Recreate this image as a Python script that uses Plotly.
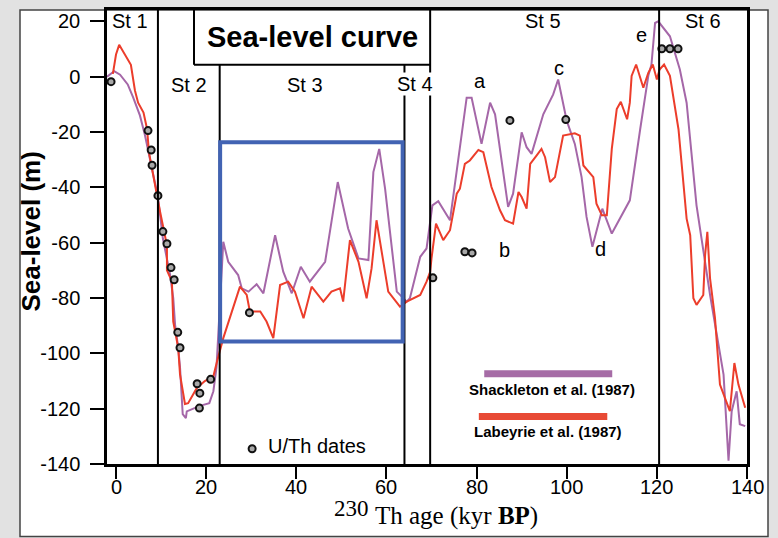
import plotly.graph_objects as go

# ---------------- data ----------------
shackleton_age = [-2.0, -0.4, 0.9, 2.6, 3.8, 5.3, 6.4, 7.5, 8.5, 9.3, 10.4, 12.0, 12.7, 13.1, 13.8, 14.2,
                  14.8, 15.5, 15.7, 18.6, 20.7, 21.6, 22.3, 23.0, 23.8, 24.9, 27.1, 27.9, 29.4, 31.2, 32.7,
                  35.3, 37.1, 39.0, 41.0, 43.0, 46.4, 49.2, 51.5, 53.8, 56.0, 57.1, 58.4, 59.7, 62.3, 64.5,
                  65.2, 67.5, 68.9, 70.2, 71.5, 74.1, 77.8, 78.9, 81.1, 83.0, 84.1, 87.0, 88.1, 90.0, 91.1,
                  92.2, 94.8, 97.0, 98.1, 100.0, 101.8, 103.3, 104.4, 105.7, 107.9, 110.0, 114.0, 116.3,
                  118.1, 118.8, 119.6, 120.3, 122.9, 125.1, 126.6, 128.8, 131.8, 134.8, 135.9, 136.6,
                  137.7, 138.4, 139.6]
shackleton_sl = [0.0, 2.0, 0.7, -2.8, -7.5, -14.0, -21.0, -30.0, -38.0, -43.5, -58.5, -71.6, -80.0, -89.6,
                 -98.0, -105.0, -122.0, -123.4, -121.0, -119.0, -118.0, -113.7, -105.0, -85.0, -59.7, -66.9,
                 -71.7, -76.5, -77.7, -75.0, -78.3, -57.3, -70.5, -78.3, -68.7, -74.1, -66.9, -38.1, -54.9,
                 -65.7, -66.3, -34.5, -26.1, -40.5, -77.7, -81.3, -80.1, -65.1, -62.1, -46.5, -45.0, -51.9,
                 -7.6, -7.6, -24.3, -9.4, -13.6, -47.1, -42.3, -20.1, -25.5, -27.9, -13.6, -6.4, -1.0,
                 -15.9, -24.3, -36.3, -50.7, -61.5, -47.7, -56.7, -44.7, -19.0, 0.3, 4.4, 19.4, 20.0, 14.6,
                 2.6, -9.4, -46.5, -78.9, -107.7, -138.8, -120.9, -113.7, -125.6, -126.3]

labeyrie_age = [-0.7, 0.0, 0.7, 2.4, 3.3, 4.2, 4.9, 6.1, 6.9, 7.3, 8.2, 9.1, 9.8, 11.3, 11.3, 12.4, 12.7,
                13.8, 14.2, 15.3, 16.0, 17.9, 19.7, 21.6, 22.4, 23.8, 27.5, 29.0, 29.7, 32.0, 33.4, 34.9,
                36.4, 38.2, 39.7, 41.6, 43.4, 46.0, 47.8, 49.7, 50.4, 51.9, 53.8, 55.6, 56.7, 57.8, 60.4,
                63.0, 64.5, 67.5, 68.9, 69.7, 70.0, 71.0, 72.6, 74.1, 75.6, 76.3, 77.4, 78.5, 80.4, 81.5,
                83.3, 85.2, 86.3, 88.1, 89.3, 90.0, 91.1, 91.9, 93.3, 94.4, 95.2, 96.3, 97.4, 99.2, 101.8,
                102.9, 103.7, 105.9, 106.6, 107.8, 108.9, 110.0, 111.1, 112.0, 113.4, 114.0, 114.4, 115.4,
                117.0, 118.1, 119.1, 120.0, 120.6, 121.6, 122.9, 124.8, 126.6, 127.4, 128.1, 128.8, 130.3,
                130.7, 131.2, 131.8, 132.9, 134.0, 136.2, 137.2, 138.1, 139.6]
labeyrie_sl = [1.0, 8.0, 11.5, 6.8, 4.3, -5.0, -9.4, -13.0, -19.0, -27.3, -34.5, -43.0, -49.0, -61.0, -70.0,
               -74.0, -88.5, -98.0, -107.6, -118.3, -118.0, -112.6, -110.0, -108.3, -103.0, -94.5, -75.9,
               -78.9, -84.9, -84.9, -88.5, -94.5, -75.3, -74.1, -77.7, -87.3, -75.9, -81.3, -77.7, -76.5,
               -81.3, -59.1, -66.9, -80.1, -69.3, -51.9, -77.7, -83.1, -81.3, -78.9, -74.1, -70.5, -65.7,
               -53.1, -59.1, -55.5, -42.3, -40.5, -31.5, -30.3, -26.5, -27.3, -39.9, -48.3, -51.9, -53.1,
               -41.7, -43.5, -47.7, -31.5, -28.5, -26.1, -29.1, -38.1, -36.3, -21.3, -20.5, -21.3, -32.1,
               -36.3, -45.9, -50.1, -50.1, -26.1, -11.7, -9.1, -15.4, -9.4, 0.3, 4.4, -4.0, 1.4, 4.4, -1.0,
               2.6, 4.4, 0.3, -19.0, -51.3, -57.3, -80.1, -82.5, -78.9, -64.5, -56.1, -72.9, -87.3, -111.3,
               -120.9, -103.5, -111.3, -119.7]

uth_age = [-1.1, 7.1, 7.8, 8.0, 9.3, 10.4, 11.3, 12.2, 12.9, 13.7, 14.2, 18.0, 18.6, 18.5, 21.0, 29.6,
           70.3, 77.4, 79.0, 87.4, 99.8, 121.1, 122.9, 124.7]
uth_sl = [-1.8, -19.5, -26.5, -32.0, -43.0, -56.0, -60.4, -69.0, -73.4, -92.4, -98.0, -111.0, -114.4, -119.8,
          -109.4, -85.3, -72.7, -63.3, -63.7, -15.8, -15.5, 10.1, 10.1, 10.1]

legend_marker_age = [30.2]
legend_marker_sl = [-134.5]

stage_labels = ["St 1", "St 2", "St 3", "St 4", "St 5", "St 6"]
stage_label_age = [3.1, 16.2, 41.9, 66.3, 94.7, 130.2]
stage_label_sl = [20.0, -2.9, -2.9, -2.6, 20.1, 20.1]
stage_bounds = [9.3, 23.0, 64.0, 69.7, 120.5]

event_labels = ["a", "b", "c", "d", "e"]
event_age = [80.8, 86.3, 98.3, 107.4, 116.5]
event_sl = [-1.4, -62.6, 3.2, -62.2, 15.1]

x_ticks = [0, 20, 40, 60, 80, 100, 120, 140]
x_tick_labels = ["0", "20", "40", "60", "80", "100", "120", "140"]
y_ticks = [20, 0, -20, -40, -60, -80, -100, -120, -140]
y_tick_labels = ["20", "0", "-20", "-40", "-60", "-80", "-100", "-120", "-140"]

PURPLE = "#a567a8"
RED = "#ec3d2b"
BLUE = "#4263b3"
YTOP = 24.1
YBOT = -140
FONT = "Liberation Sans"

fig = go.Figure()
fig.add_trace(go.Scatter(x=shackleton_age, y=shackleton_sl, mode="lines",
                         line=dict(color=PURPLE, width=2), showlegend=False))
fig.add_trace(go.Scatter(x=labeyrie_age, y=labeyrie_sl, mode="lines",
                         line=dict(color=RED, width=2), showlegend=False))
fig.add_trace(go.Scatter(x=uth_age, y=uth_sl, mode="markers",
                         marker=dict(size=7, color="#a8a8a8", line=dict(color="#111", width=2)),
                         showlegend=False))
fig.add_trace(go.Scatter(x=legend_marker_age, y=legend_marker_sl, mode="markers",
                         marker=dict(size=7, color="#a8a8a8", line=dict(color="#111", width=2)),
                         showlegend=False))

shapes = []
L, R, T, B = 107, 747, 7, 464
W, H = R - L, B - T
def px(xp):
    return (xp - L) / W
def py(yp):
    return (B - yp) / H
# white panel with border
shapes.append(dict(type="rect", xref="paper", yref="paper", x0=px(20), x1=px(768), y0=py(537), y1=py(7),
                   fillcolor="white", line=dict(color="#444", width=1.5), layer="below"))
# stage boundary lines
tops = [YTOP, 4.3, 4.3, YTOP, YTOP]
for xb, yt in zip(stage_bounds, tops):
    shapes.append(dict(type="line", x0=xb, x1=xb, y0=YBOT, y1=yt, line=dict(color="black", width=2)))
# title box
shapes.append(dict(type="line", x0=17.3, x1=17.3, y0=4.3, y1=YTOP, line=dict(color="black", width=2)))
shapes.append(dict(type="line", x0=17.3, x1=69.7, y0=4.3, y1=4.3, line=dict(color="black", width=2)))
# blue box
shapes.append(dict(type="rect", x0=23.1, x1=63.6, y0=-95.7, y1=-23.7, line=dict(color=BLUE, width=4)))
# legend bars
shapes.append(dict(type="rect", x0=81.7, x1=110.1, y0=-108.6, y1=-106.1, fillcolor="#a66ca6", line=dict(width=0)))
shapes.append(dict(type="rect", x0=80.5, x1=109.0, y0=-124.1, y1=-121.6, fillcolor="#e84a35", line=dict(width=0)))

ann = []
ann.append(dict(x=43.5, y=14.2, text="<b>Sea-level curve</b>", showarrow=False,
                font=dict(family=FONT, size=29, color="black")))
for t, xa, ya in zip(stage_labels, stage_label_age, stage_label_sl):
    a = dict(x=xa, y=ya, text=t, showarrow=False, font=dict(family=FONT, size=20, color="black"))
    if t == "St 4":
        a.update(bgcolor="white", borderpad=0)
    ann.append(a)
for t, xa, ya in zip(event_labels, event_age, event_sl):
    ann.append(dict(x=xa, y=ya, text=t, showarrow=False, font=dict(family=FONT, size=20, color="black")))
ann.append(dict(x=96.7, y=-113.0, text="<b>Shackleton et al. (1987)</b>", showarrow=False,
                font=dict(family=FONT, size=15, color="black")))
ann.append(dict(x=95.9, y=-128.4, text="<b>Labeyrie et al. (1987)</b>", showarrow=False,
                font=dict(family=FONT, size=15, color="black")))
ann.append(dict(x=33.3, y=-133.5, text="U/Th dates", showarrow=False, xanchor="left",
                font=dict(family=FONT, size=20, color="black")))
# x tick labels
for v, lab in zip(x_ticks, x_tick_labels):
    ann.append(dict(x=v, xref="x", yref="paper", y=py(487), text=lab, showarrow=False,
                    yanchor="middle", font=dict(family=FONT, size=20, color="black")))
# axis titles
ann.append(dict(xref="paper", yref="paper", x=px(332), y=py(509), text="230", showarrow=False,
                xanchor="left", yanchor="middle", font=dict(family="Liberation Serif", size=23, color="black")))
ann.append(dict(xref="paper", yref="paper", x=px(373), y=py(516), text="Th age (kyr <b>BP</b>)", showarrow=False,
                xanchor="left", yanchor="middle", font=dict(family="Liberation Serif", size=25, color="black")))
ann.append(dict(xref="paper", yref="paper", x=px(31), y=py(230), text="<b>Sea-level (m)</b>", showarrow=False,
                textangle=-90, xanchor="center", yanchor="middle",
                font=dict(family=FONT, size=26, color="black")))

fig.update_layout(
    width=778, height=538,
    margin=dict(l=L, r=778 - R, t=T, b=538 - B),
    paper_bgcolor="#e2e2e2", plot_bgcolor="white",
    shapes=shapes, annotations=ann, showlegend=False,
)
fig.update_xaxes(range=[-2, 140], tickvals=x_ticks, ticks="outside", ticklen=12, tickwidth=2,
                 tickcolor="black", showline=True, linecolor="black", linewidth=2.5, mirror=True,
                 showgrid=False, zeroline=False, showticklabels=False)
fig.update_yaxes(range=[YBOT, YTOP], tickvals=y_ticks, ticktext=y_tick_labels, ticks="outside",
                 ticklen=14, tickwidth=2,
                 tickcolor="black", showline=True, linecolor="black", linewidth=2.5, mirror=True,
                 showgrid=False, zeroline=False, ticklabelstandoff=6,
                 tickfont=dict(family=FONT, size=20, color="black"))

fig.write_html("out.html")
